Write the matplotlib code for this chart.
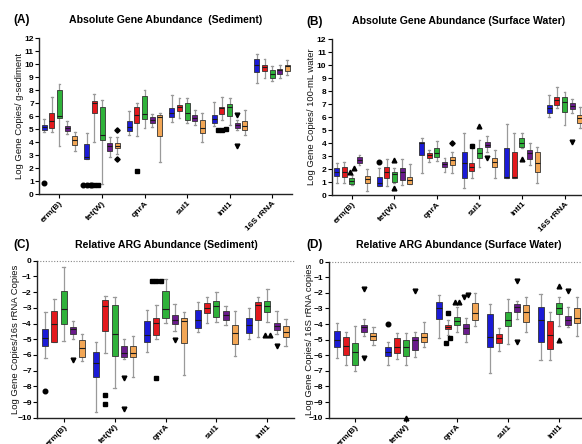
import matplotlib.pyplot as plt
import numpy as np

plt.rcParams['font.family'] = ['Liberation Sans', 'DejaVu Sans']

genes_abs = ['erm(B)', 'tet(W)', 'qnrA', 'sul1', 'intI1', '16S rRNA']
genes_rel = ['erm(B)', 'tet(W)', 'qnrA', 'sul1', 'intI1']
colors = ['#1b1bd6', '#e3191d', '#2fb23a', '#6a1b8c', '#f2a655']
markers = ['o', 's', '^', 'v', 'D']
msizes = [3.3, 3.2, 3.4, 3.4, 2.7]

# each box: [whisker low, Q1, median, Q3, whisker high]; rows = genes, 5 series per gene
a_stats = [
    [[4.75, 4.95, 5.15, 5.33, 5.8], [4.75, 5.08, 5.6, 6.28, 7.44], [3.7, 5.85, 6.03, 8.03, 8.46],
     [4.6, 4.87, 5.1, 5.26, 5.6], [3.3, 3.8, 4.2, 4.49, 4.75]],
    [[2.7, 2.7, 2.9, 3.85, 4.7], [4.0, 6.23, 7.0, 7.13, 7.7], [0.77, 4.18, 4.56, 6.74, 7.26],
     [2.85, 3.36, 3.74, 3.92, 4.4], [3.1, 3.54, 3.74, 3.97, 4.4]],
    [[4.56, 4.87, 5.2, 5.59, 6.36], [4.5, 5.46, 6.1, 6.67, 7.0], [5.08, 5.77, 6.18, 7.51, 7.97],
     [5.2, 5.51, 5.72, 5.97, 6.18], [2.5, 4.44, 5.92, 6.1, 6.23]],
    [[5.54, 5.97, 6.28, 6.62, 7.6], [5.85, 6.36, 6.69, 6.87, 7.38], [5.46, 5.72, 6.23, 7.0, 7.38],
     [5.33, 5.59, 5.85, 6.1, 6.49], [4.05, 4.69, 5.08, 5.72, 6.23]],
    [[5.26, 5.51, 5.77, 6.1, 7.05], [5.72, 6.18, 6.62, 6.74, 7.44], [5.33, 6.03, 6.69, 6.92, 7.38],
     [4.95, 5.08, 5.33, 5.46, 5.72], [4.56, 4.9, 5.26, 5.59, 6.49]],
    [[8.54, 9.36, 9.95, 10.38, 10.8], [8.92, 9.44, 9.74, 9.95, 10.4], [8.72, 8.92, 9.26, 9.51, 9.87],
     [8.92, 9.26, 9.51, 9.64, 9.95], [9.18, 9.44, 9.82, 9.95, 10.33]],
]
a_fliers = {(0, 0): [0.9], (1, 0): [0.75, 0.75, 0.75], (1, 1): [0.75, 0.75, 0.75],
            (1, 4): [4.95, 2.72], (2, 1): [1.8], (4, 1): [4.9, 4.95, 5.0], (4, 3): [6.1, 3.67]}

b_stats = [
    [[0.9, 1.46, 1.8, 2.1, 2.5], [0.9, 1.36, 1.8, 2.18, 2.56], [0.77, 0.85, 1.08, 1.28, 1.54],
     [2.3, 2.44, 2.69, 2.95, 3.08], [0.33, 0.95, 1.2, 1.46, 1.97]],
    [[0.72, 0.72, 0.95, 1.41, 2.05], [0.72, 1.28, 1.8, 2.18, 2.74], [0.9, 1.03, 1.62, 1.8, 2.05],
     [0.77, 1.15, 1.8, 2.05, 2.74], [0.82, 0.82, 1.15, 1.41, 2.36]],
    [[1.72, 3.08, 4.0, 4.1, 4.41], [2.56, 2.82, 3.08, 3.2, 3.46], [2.64, 2.95, 3.26, 3.59, 4.18],
     [1.8, 2.18, 2.38, 2.56, 2.82], [1.67, 2.31, 2.69, 2.95, 3.33]],
    [[0.51, 1.28, 2.44, 3.33, 4.74], [1.28, 1.87, 2.18, 2.49, 3.9], [2.18, 2.82, 3.26, 3.59, 4.23],
     [3.33, 3.67, 3.85, 4.1, 4.54], [1.28, 2.18, 2.51, 2.82, 3.46]],
    [[1.28, 1.28, 1.4, 3.64, 5.46], [1.28, 1.28, 1.4, 3.33, 4.74], [3.59, 3.72, 4.03, 4.36, 4.74],
     [2.31, 2.74, 3.26, 3.46, 3.97], [0.95, 1.79, 2.44, 3.33, 3.72]],
    [[5.97, 6.28, 6.67, 6.92, 7.69], [6.67, 6.92, 7.31, 7.56, 8.33], [5.38, 6.41, 7.18, 7.56, 7.9],
     [6.28, 6.59, 6.85, 7.05, 7.36], [5.13, 5.51, 5.9, 6.15, 6.79]],
]
b_fliers = {(0, 2): [1.8, 2.05], (1, 0): [2.56], (1, 2): [2.7, 0.51], (2, 4): [4.03],
            (3, 1): [3.8], (3, 2): [5.3], (3, 3): [2.82], (4, 2): [2.74], (5, 3): [4.1]}

c_stats = [
    [[-6.22, -5.44, -4.95, -4.37, -3.25], [-5.16, -5.16, -4.06, -3.2, -2.44], [-5.12, -4.03, -3.08, -1.91, -0.38],
     [-4.99, -4.67, -4.37, -4.2, -3.84], [-6.37, -6.11, -5.58, -5.05, -4.67]],
    [[-9.66, -7.43, -6.54, -5.8, -5.16], [-5.9, -4.46, -2.87, -2.5, -2.25], [-8.13, -6.07, -4.69, -2.82, -2.34],
     [-6.26, -6.11, -5.9, -5.41, -4.99], [-7.43, -6.11, -5.9, -5.44, -4.8]],
    [[-5.8, -5.16, -4.73, -3.84, -3.14], [-5.01, -4.73, -3.99, -3.63, -2.82], [-3.99, -3.67, -3.08, -1.91, -1.19],
     [-4.48, -4.03, -3.78, -3.46, -2.76], [-7.28, -5.27, -3.84, -3.67, -3.25]],
    [[-4.52, -4.31, -3.78, -3.14, -2.61], [-3.99, -3.35, -3.04, -2.68, -2.29], [-3.89, -3.61, -2.89, -2.57, -1.97],
     [-4.1, -3.78, -3.46, -3.21, -2.87], [-6.05, -5.33, -4.59, -4.1, -3.18]],
    [[-5.01, -4.63, -4.1, -3.67, -3.04], [-4.88, -3.78, -2.82, -2.65, -2.29], [-3.89, -3.29, -2.89, -2.55, -1.83],
     [-4.69, -4.42, -4.16, -3.95, -3.2], [-5.44, -4.88, -4.52, -4.16, -3.72]],
]
c_fliers = {(0, 0): [-8.28], (0, 3): [-6.33], (1, 1): [-8.56, -9.13], (1, 3): [-7.45, -9.47],
            (2, 1): [-1.3, -1.3, -1.3, -7.5], (2, 3): [-5.05], (4, 2): [-4.75, -4.75], (4, 3): [-5.44]}

d_stats = [
    [[-6.2, -5.49, -5.02, -4.42, -3.91], [-6.62, -5.98, -5.41, -4.81, -4.49], [-7.01, -6.62, -5.77, -5.24, -4.12],
     [-4.76, -4.49, -4.21, -4.06, -3.68], [-5.34, -5.02, -4.76, -4.55, -4.17]],
    [[-6.62, -6.05, -5.77, -5.49, -5.17], [-6.26, -5.88, -5.45, -4.91, -4.55], [-6.62, -6.05, -5.45, -5.02, -4.55],
     [-6.09, -5.66, -5.02, -4.81, -4.49], [-5.45, -5.13, -4.81, -4.59, -3.85]],
    [[-4.91, -3.7, -2.95, -2.56, -2.14], [-4.7, -4.34, -4.17, -4.06, -3.74], [-4.49, -4.06, -3.8, -3.57, -2.88],
     [-5.13, -4.64, -4.27, -4.02, -3.59], [-4.12, -3.74, -3.27, -2.63, -1.99]],
    [[-7.12, -5.49, -4.81, -3.35, -2.74], [-5.73, -5.19, -4.87, -4.66, -4.27], [-5.3, -4.12, -3.74, -3.21, -2.39],
     [-3.7, -3.21, -2.88, -2.74, -2.5], [-4.49, -3.89, -3.21, -2.78, -2.24]],
    [[-6.3, -5.17, -3.74, -2.93, -2.07], [-6.3, -5.6, -4.7, -3.78, -3.21], [-4.12, -3.35, -2.99, -2.63, -2.29],
     [-4.21, -4.06, -3.74, -3.48, -2.88], [-4.76, -3.95, -3.63, -2.99, -2.29]],
]
d_fliers = {(0, 3): [-1.77, -6.15], (1, 0): [-4.0], (1, 2): [-10.0], (1, 3): [-1.88],
            (2, 1): [-3.27, -5.2, -4.9], (2, 2): [-2.56, -2.56], (2, 3): [-2.24, -2.14],
            (3, 3): [-1.24, -5.13], (4, 2): [-1.56, -5.02], (4, 3): [-1.86]}

GAP = 5.6   # distance between gene groups (in box units)


def draw_panel(ax, genes, stats, fliers, ylim, pad):
    pos, bstats = [], []
    for g, row in enumerate(stats):
        for s, (lo, q1, med, q3, hi) in enumerate(row):
            pos.append(g * GAP + s)
            bstats.append(dict(whislo=lo, q1=q1, med=med, q3=q3, whishi=hi, fliers=[]))
    out = ax.bxp(bstats, positions=pos, widths=0.66, capwidths=0.25, patch_artist=True,
                 showfliers=False, manage_ticks=False,
                 boxprops=dict(edgecolor='#333333', linewidth=0.6),
                 medianprops=dict(color='#1a1a1a', linewidth=0.8),
                 whiskerprops=dict(color='#9a9a9a', linewidth=0.9),
                 capprops=dict(color='#9a9a9a', linewidth=0.9))
    for k, box in enumerate(out['boxes']):
        box.set_facecolor(colors[k % 5])
        box.set_zorder(3)
    for line in out['medians']:
        line.set_zorder(4)

    # outliers, nearby values are spread sideways like the original software does
    for (g, s), vals in fliers.items():
        vals = sorted(vals)
        clusters = [[vals[0]]]
        for v in vals[1:]:
            if v - clusters[-1][-1] < 0.35:
                clusters[-1].append(v)
            else:
                clusters.append([v])
        for cl in clusters:
            offs = (np.arange(len(cl)) - (len(cl) - 1) / 2) * 0.5
            ax.plot(g * GAP + s + offs, cl, linestyle='none', marker=markers[s],
                    color='black', markersize=msizes[s], clip_on=False, zorder=5)

    n = len(genes)
    ax.set_xlim(-pad, (n - 1) * GAP + 4 + pad)
    ax.set_ylim(*ylim)
    ax.set_xticks([g * GAP + 2 for g in range(n)])
    ax.set_xticklabels(genes, rotation=45, ha='right', rotation_mode='anchor',
                       fontsize=6, fontweight='bold')
    ax.set_yticks(np.arange(ylim[0], ylim[1] + 1, 1))
    ax.tick_params(axis='y', labelsize=6, length=3, width=0.8, pad=1)
    ax.tick_params(axis='x', length=3, width=0.8, pad=1)
    for lab in ax.get_yticklabels():
        lab.set_fontweight('bold')
    for sp in ['top', 'right']:
        ax.spines[sp].set_visible(False)
    for sp in ['left', 'bottom']:
        ax.spines[sp].set_linewidth(1.0)
        ax.spines[sp].set_color('#222222')


W, H = 582, 444
fig = plt.figure(figsize=(W / 100, H / 100), dpi=100)


def px_axes(x0, y_top, x1, y_bot):
    return fig.add_axes([x0 / W, 1 - y_bot / H, (x1 - x0) / W, (y_bot - y_top) / H])


axA = px_axes(39.3, 38, 292.3, 194.3)
axB = px_axes(331.7, 39, 584.7, 195)
axC = px_axes(37.3, 260.7, 293.7, 417.7)
axD = px_axes(329, 261.7, 585, 417.7)

draw_panel(axA, genes_abs, a_stats, a_fliers, (0, 12), 0.66)
draw_panel(axB, genes_abs, b_stats, b_fliers, (0, 12), 0.66)
draw_panel(axC, genes_rel, c_stats, c_fliers, (-10, 0), 0.89)
draw_panel(axD, genes_rel, d_stats, d_fliers, (-10, 0), 0.89)

for ax in (axC, axD):
    ax.axhline(0, color='#888888', linestyle=(0, (1, 1.5)), linewidth=0.8, clip_on=False, zorder=1)

# panel letters and titles
for lx, tx, y, letter, title in [
        (13, 166, 20, '(A)', 'Absolute Gene Abundance  (Sediment)'),
        (306, 459, 21.5, '(B)', 'Absolute Gene Abundance (Surface Water)'),
        (13, 166, 245, '(C)', 'Relative ARG Abundance (Sediment)'),
        (306, 459, 245, '(D)', 'Relative ARG Abundance (Surface Water)')]:
    fig.text(lx / W, 1 - y / H, letter, fontsize=8.5, fontweight='bold', va='center', ha='left')
    fig.text(tx / W, 1 - y / H, title, fontsize=7.6, fontweight='bold', va='center', ha='center')

# y-axis titles
for x, ax, label in [(20, axA, 'Log Gene Copies/ g-sediment'),
                     (311.5, axB, 'Log Gene Copies/ 100-mL water'),
                     (16, axC, 'Log Gene Copies/16s rRNA Copies'),
                     (309.5, axD, 'Log Gene Copies/ 16S rRNA copies')]:
    bb = ax.get_position()
    fig.text(x / W, (bb.y0 + bb.y1) / 2, label, rotation=90, fontsize=6.8,
             va='center', ha='center', color='#111111')

fig.savefig('out.png', dpi=100)
